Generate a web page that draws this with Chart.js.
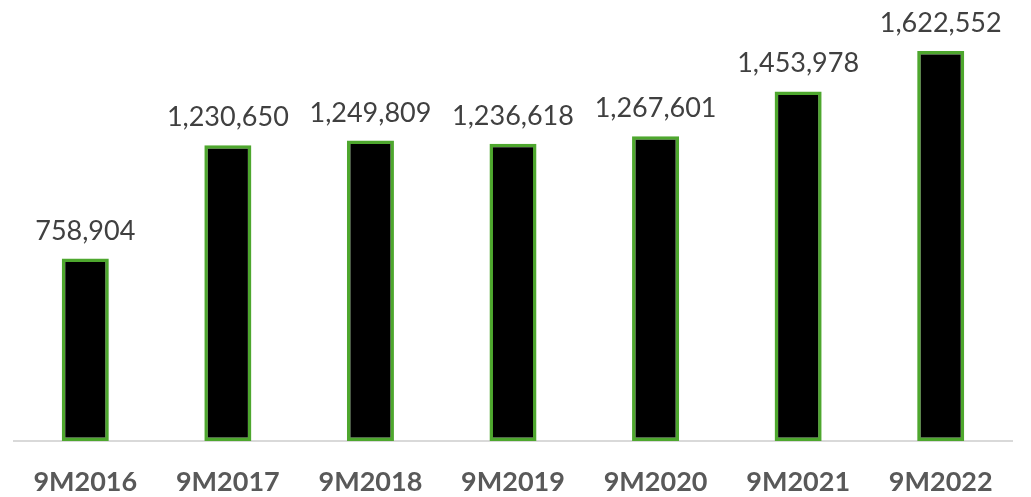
<!DOCTYPE html>
<html>
<head>
<meta charset="utf-8">
<script src="https://cdn.jsdelivr.net/npm/chart.js@4/dist/chart.umd.min.js"></script>
<style>
html,body{margin:0;padding:0;background:#fff;}
#wrap{width:1031px;height:497px;position:relative;}
</style>
</head>
<body>
<div id="wrap"><canvas id="c"></canvas></div>
<script>
const categories = ["9M2016","9M2017","9M2018","9M2019","9M2020","9M2021","9M2022"];
const values = [758904,1230650,1249809,1236618,1267601,1453978,1622552];

const valueLabels = {
  id: 'valueLabels',
  afterDatasetsDraw(chart) {
    const ctx = chart.ctx;
    const meta = chart.getDatasetMeta(0);
    ctx.save();
    ctx.font = '27px Lato';
    ctx.fillStyle = '#404040';
    ctx.textAlign = 'center';
    ctx.textBaseline = 'alphabetic';
    meta.data.forEach((bar, i) => {
      ctx.fillText(values[i].toLocaleString('en-US'), bar.x, bar.y - 19);
    });
    ctx.restore();
  }
};

new Chart(document.getElementById('c'), {
  type: 'bar',
  data: {
    labels: categories,
    datasets: [{
      data: values,
      backgroundColor: '#000000',
      borderColor: '#4EA72E',
      borderWidth: 3.5,
      borderSkipped: false,
      categoryPercentage: 1,
      barPercentage: 0.33
    }]
  },
  options: {
    responsive: true,
    maintainAspectRatio: false,
    animation: false,
    layout: { padding: { left: 14, right: 19, top: 0, bottom: 0 } },
    plugins: { legend: { display: false }, tooltip: { enabled: false } },
    scales: {
      x: {
        grid: { display: false, drawTicks: false },
        border: { display: true, color: '#d9d9d9', width: 2 },
        ticks: { color: '#595959', font: { family: 'Lato', size: 27, weight: 'bold' }, padding: 25, maxRotation: 0 },
        afterFit(scale) { scale.height = 56; }
      },
      y: {
        display: false,
        min: 0,
        max: 1834500
      }
    }
  },
  plugins: [valueLabels]
});
</script>
</body>
</html>
